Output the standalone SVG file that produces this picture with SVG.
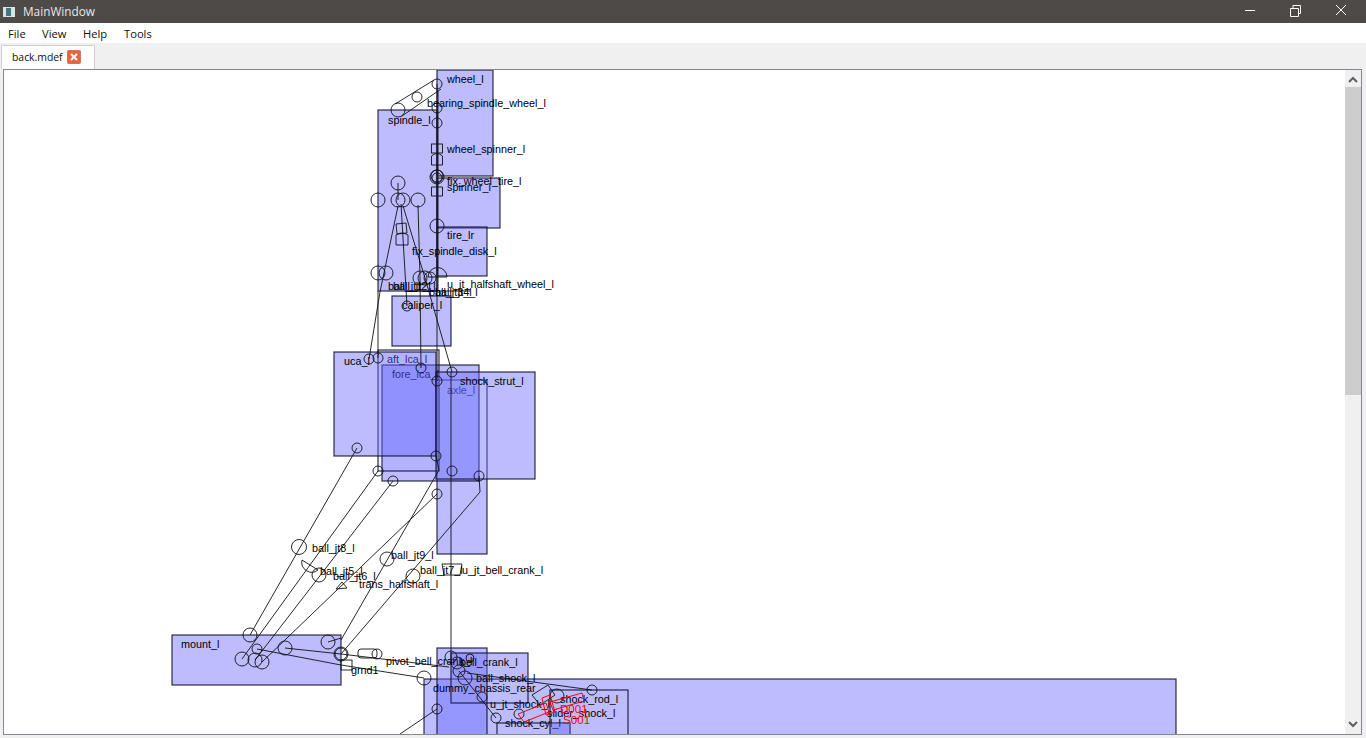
<svg xmlns="http://www.w3.org/2000/svg" width="1366" height="738" viewBox="0 0 1366 738">
<style>
.b{fill:#6464ff;fill-opacity:.43;stroke:#0c0c28;stroke-opacity:.85;stroke-width:1.2}
.f{fill:#6464ff;fill-opacity:.43;stroke:none}
.e{fill:none;stroke:#0c0c28;stroke-opacity:.85;stroke-width:1.2}
.t{font:10.8px "Liberation Sans",sans-serif;fill:#000}
.r{font:11.6px "Liberation Sans",sans-serif;fill:#f00}
.j{fill:none;stroke:#111;stroke-width:.9}
.c line,.c polyline{fill:none;stroke:#111;stroke-width:.9}
.m{font:11.2px "Open Sans",sans-serif;fill:#111}
.red{fill:none;stroke:#f00;stroke-width:1}
</style>
<defs><clipPath id="view"><rect x="4" y="70" width="1341" height="664"/></clipPath></defs>
<rect width="1366" height="738" fill="#f0f0f0"/>
<g id="chrome">
<rect width="1366" height="23" fill="#4d4a48"/>
<rect x="3" y="7" width="12" height="10" fill="#d8e4e4"/><rect x="6" y="8" width="5" height="8" fill="#3c7a80"/>
<text x="23" y="16" font-family="Open Sans,sans-serif" font-size="11.800" fill="#e8e8e8">MainWindow</text>
<path d="M1245 10.500h10" stroke="#fff" fill="none"/>
<path d="M1290.500 8.500h8v8h-8zM1293 8.500v-3h7.500v8h-2" stroke="#fff" fill="none"/>
<path d="M1336 5l10 10M1346 5l-10 10" stroke="#fff" fill="none"/>
<rect y="23" width="1366" height="20" fill="#fff"/>
<text class="m" x="8" y="38">File</text><text class="m" x="42" y="38">View</text><text class="m" x="83" y="38">Help</text><text class="m" x="124" y="38">Tools</text>
<path d="M1.500 69V45.500H94.500V69" fill="#fff" stroke="#d0d0d0"/>
<text class="m" x="12" y="61" style="font-size:10.400px">back.mdef</text>
<rect x="67.500" y="50.500" width="13" height="13" rx="1" fill="#e8643c" stroke="#c8785a"/>
<path d="M71 54l6 6M77 54l-6 6" stroke="#fff" stroke-width="2"/>
<rect x="3.500" y="69.500" width="1358" height="665" fill="#fff" stroke="#828790"/>
<rect x="1345" y="70" width="16" height="664" fill="#f0f0f0"/>
<rect x="1345" y="87" width="16" height="308" fill="#cdcdcd"/>
<path d="M1349 82l4-4 4 4M1349 722l4 4 4-4" fill="none" stroke="#606060" stroke-width="2"/>
</g>
<g clip-path="url(#view)">
<g id="axle_l"><rect class="f" x="437" y="479" width="50" height="75"/><rect class="e" x="437" y="380" width="50" height="174"/><text class="t" x="447" y="394">axle_l</text></g>
<g id="fore_lca_l"><rect class="b" x="382" y="365" width="97" height="116"/><text class="t" x="392" y="378">fore_lca_l</text></g>
<g id="aft_lca_l"><rect class="b" style="fill-opacity:.1" x="378" y="350" width="61" height="121"/><text class="t" x="387" y="363">aft_lca_l</text></g>
<g id="uca_l"><rect class="b" x="334" y="352" width="102" height="104"/><text class="t" x="344" y="365">uca_l</text></g>
<g id="shock_strut_l"><rect class="b" x="436" y="372" width="99" height="107"/><text class="t" x="460" y="385">shock_strut_l</text></g>
<g id="wheel_l"><rect class="b" x="437" y="70" width="56" height="106"/><text class="t" x="447" y="83">wheel_l</text></g>
<g id="spinner_l"><rect class="b" x="437" y="178" width="63" height="50"/><text class="t" x="447" y="191">spinner_l</text></g>
<g id="tire_lr"><rect class="b" x="437" y="227" width="50" height="49"/><text class="t" x="447" y="239">tire_lr</text></g>
<g id="spindle_l"><rect class="b" x="378" y="110" width="59" height="181"/><text class="t" x="388" y="124">spindle_l</text></g>
<g id="caliper_l"><rect class="b" x="392" y="296" width="59" height="50"/><text class="t" x="402" y="309">caliper_l</text></g>
<g id="mount_l"><rect class="b" x="172" y="635" width="169" height="50"/><text class="t" x="181" y="648">mount_l</text></g>
<g id="dummy_chassis_rear"><rect class="b" x="424" y="679" width="752" height="80"/></g>
<g id="axle_lower"><rect class="b" x="437" y="648" width="50" height="110"/></g>
<g id="bell_crank_l"><rect class="f" x="451" y="653" width="77" height="26"/><rect class="e" x="451" y="653" width="77" height="50"/><text class="t" x="460" y="666">bell_crank_l</text></g>
<text class="t" x="433" y="692">dummy_chassis_rear</text>
<g id="shock_cyl_l"><rect class="e" x="497" y="723" width="73" height="40"/><text class="t" x="505" y="727">shock_cyl_l</text></g>
<g id="shock_rod_l"><rect class="f" x="550" y="723" width="20" height="40"/><rect class="e" x="550" y="690" width="78" height="70"/><text class="t" x="560" y="703">shock_rod_l</text></g>
<g class="c" id="connectors">
<line x1="395" y1="104" x2="434" y2="80"/><line x1="402" y1="116" x2="441" y2="89"/>
<line x1="437" y1="84" x2="437" y2="381"/>
<line x1="438" y1="90" x2="438" y2="290"/>
<line x1="398" y1="183" x2="398" y2="200"/>
<polyline points="398,206 380,292 369,359"/>
<polyline points="403,206 425,278 452,372"/>
<line x1="401" y1="204" x2="407" y2="306"/>
<polyline points="418,205 420,278 421,368"/>
<line x1="378" y1="291" x2="378" y2="358"/>
<line x1="407" y1="291" x2="470" y2="291"/>
<line x1="451" y1="372" x2="451" y2="660"/>
<line x1="357" y1="448" x2="250" y2="635"/>
<line x1="378" y1="471" x2="242" y2="659"/>
<line x1="393" y1="481" x2="255" y2="660"/>
<line x1="437" y1="494" x2="262" y2="662"/>
<polyline points="436,456 439,470 341,640"/>
<polyline points="479,476 480,492 341,654"/>
<line x1="328" y1="642" x2="341" y2="638"/>
<polyline points="285,648 341,654 449,667"/>
<polyline points="257,649 341,665 424,678"/>
<line x1="437" y1="709" x2="400" y2="734"/>
<line x1="467" y1="673" x2="592" y2="690"/>
<line x1="459" y1="671" x2="496" y2="718"/>
</g>
<g id="joints" class="j">
<circle cx="398" cy="110" r="7"/><circle cx="417" cy="97" r="5"/><circle cx="437" cy="84" r="5"/>
<circle cx="437" cy="108" r="5"/><circle cx="437" cy="123" r="5"/>
<rect x="431.500" y="144" width="11" height="9"/><path d="M431.500 165v-9q5.500-5 11 0v9z"/><path d="M431.500 196v-9h11v9z"/>
<circle cx="437" cy="177" r="7"/><circle cx="437" cy="176" r="6"/><circle cx="437" cy="178" r="5"/>
<circle cx="398" cy="183" r="7"/><circle cx="378" cy="200" r="7"/><circle cx="398" cy="200" r="7"/><circle cx="403" cy="200" r="7"/><circle cx="418" cy="200" r="7"/><circle cx="437" cy="226" r="7"/>
<path d="M396 224l10-1 1 10-10 1z"/><path d="M396 235q6-4 12 0v10h-12z"/>
<circle cx="378" cy="273" r="7"/><circle cx="386" cy="273" r="7"/><circle cx="420" cy="278" r="7"/><circle cx="425" cy="278" r="7"/><circle cx="430" cy="278" r="6"/>
<path d="M428 277a9.500 9.500 0 0 1 19 0z"/>
<circle cx="407" cy="306" r="5"/><circle cx="369" cy="359" r="5"/><circle cx="378" cy="358" r="5"/><circle cx="421" cy="368" r="5"/><circle cx="437" cy="381" r="5"/><circle cx="452" cy="372" r="5"/><circle cx="357" cy="448" r="5"/><circle cx="436" cy="456" r="5"/><circle cx="378" cy="471" r="5"/><circle cx="393" cy="481" r="5"/><circle cx="452" cy="471" r="5"/><circle cx="479" cy="476" r="5"/><circle cx="437" cy="494" r="5"/>
<circle cx="299" cy="547" r="7.500"/><path d="M302 560L318 570A10 10 0 0 1 302 560z"/><circle cx="319" cy="575" r="7"/><circle cx="387" cy="559" r="7"/><circle cx="413" cy="576" r="7"/><path d="M336 589l6-7 5 6z"/>
<path d="M442 564h20l-2 11h-16z"/>
<circle cx="250" cy="635" r="7"/><circle cx="328" cy="642" r="7"/><circle cx="285" cy="648" r="7"/><circle cx="242" cy="659" r="7"/><circle cx="255" cy="660" r="7"/><circle cx="257" cy="649" r="5"/><circle cx="262" cy="662" r="7"/><circle cx="341" cy="654" r="7"/><circle cx="341" cy="654" r="6"/><rect x="341" y="660" width="11" height="10"/><rect x="358" y="649" width="19" height="9" rx="3"/><circle cx="377" cy="654" r="5"/><circle cx="424" cy="678" r="7"/><circle cx="437" cy="709" r="5"/><circle cx="451" cy="657" r="6"/><circle cx="457" cy="663" r="6"/><circle cx="470" cy="658" r="4"/><circle cx="459" cy="671" r="6"/><circle cx="465" cy="678" r="7"/><circle cx="482" cy="697" r="5"/><circle cx="496" cy="718" r="5"/><circle cx="519" cy="714" r="5"/><circle cx="557" cy="696" r="7"/><circle cx="592" cy="690" r="5"/>
<path d="M532 695l16-10 7 10-15 10z"/>
</g>
<g id="labels">
<text class="t" x="427" y="107">bearing_spindle_wheel_l</text>
<text class="t" x="447" y="153">wheel_spinner_l</text>
<text class="t" x="447" y="185">fix_wheel_tire_l</text>
<text class="t" x="412" y="255">fix_spindle_disk_l</text>
<text class="t" x="388" y="290">ball_jt1_l</text>
<text class="t" x="393" y="290">ball_jt2_l</text>
<text class="t" x="447" y="288">u_jt_halfshaft_wheel_l</text>
<text class="t" x="429" y="296">ball_jt3_l</text>
<text class="t" x="435" y="296">ball_jt4_l</text>
<text class="t" x="312" y="552">ball_jt8_l</text>
<text class="t" x="391" y="559">ball_jt9_l</text>
<text class="t" x="320" y="575">ball_jt5_l</text>
<text class="t" x="333" y="580">ball_jt6_l</text>
<text class="t" x="359" y="588">trans_halfshaft_l</text>
<text class="t" x="420" y="574">ball_jt7_l</text>
<text class="t" x="462" y="574">u_jt_bell_crank_l</text>
<text class="t" x="386" y="665">pivot_bell_crank_l</text>
<text class="t" x="351" y="674">grnd1</text>
<text class="t" x="476" y="682">ball_shock_l</text>
<text class="t" x="490" y="708">u_jt_shock_l</text>
<text class="t" x="547" y="717">slider_shock_l</text>
</g>
<g id="force">
<path class="red" d="M518 714l28-11 3 9-25 10zM550 702l32-9 2 8-31 9zM542 698l8-3 5 17-9 3z"/>
<text class="r" x="560" y="713">D001</text><text class="r" x="563" y="724">S001</text>
</g>
</g>
</svg>
